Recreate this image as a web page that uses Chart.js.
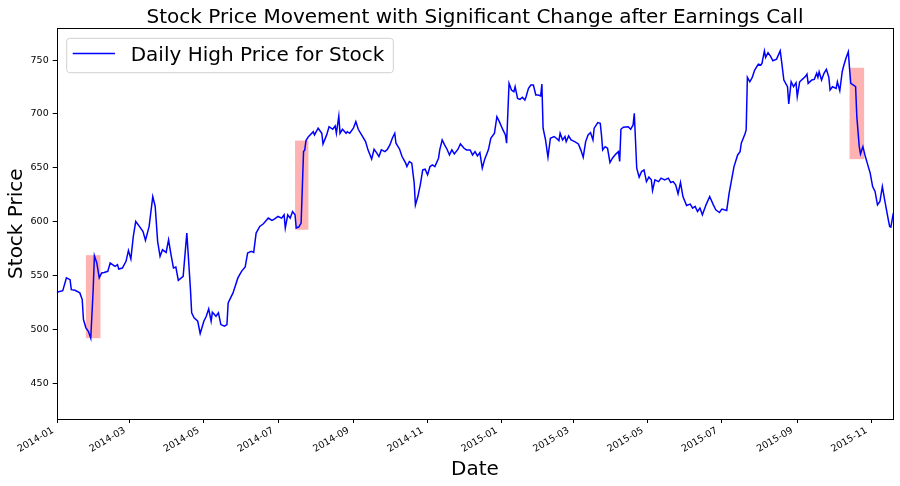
<!DOCTYPE html>
<html><head><meta charset="utf-8">
<script src="https://cdn.jsdelivr.net/npm/chart.js@4/dist/chart.umd.min.js"></script>
<style>html,body{margin:0;padding:0;background:#fff}#wrap{width:900px;height:486px}</style>
</head><body><div id="wrap"><canvas id="c" width="900" height="486"></canvas></div>
<script>
const titleText = 'Stock Price Movement with Significant Change after Earnings Call';
const xTitle = 'Date';
const yTitle = 'Stock Price';
const seriesName = 'Daily High Price for Stock';

// trading days, counted as days since 2014-01-01
const days = [
-1,4,7,10,11,14,18,20,21,23,25,27,29,30,32,34,36,38,41,43,47,49,50,53,56,58,60,62,64,67,70,72,75,78,80,82,84,86,89,91,93,95,97,99,103,106,107,109,110,112,115,117,120,122,124,126,127,130,132,134,137,139,140,144,148,151,154,156,159,161,163,166,169,
173,176,178,181,184,186,187,189,191,193,195,196,198,200,202,203,204,206,210,211,214,217,218,221,223,226,228,229,231,232,234,237,238,240,243,245,247,249,253,255,258,260,262,264,266,269,271,273,275,277,278,281,283,286,287,289,291,293,294,296,298,300,302,304,306,308,310,313,314,316,318,320,322,324,326,329,331,334,336,
339,341,343,345,347,349,351,354,356,359,361,363,366,368,369,371,373,375,376,378,380,382,384,385,387,389,391,393,395,397,398,399,401,403,405,408,410,412,413,415,417,418,420,422,425,428,430,432,434,436,438,440,441,444,446,447,448,450,452,454,456,459,461,462,463,465,469,471,473,474,476,478,480,482,484,486,488,489,491,494,496,499,502,504,506,508,510,
512,514,517,520,522,524,526,528,530,533,536,539,541,544,546,548,550,552,554,556,559,561,562,565,566,567,569,571,573,576,578,579,581,582,584,586,588,591,594,595,597,600,601,603,605,607,608,610,613,615,616,617,620,622,624,625,626,628,630,632,634,635,637,640,641,643,645,646,648,650,651,652,654,656,657,659,660,662,664,666,668,670,672,674,676,678,680,683,684,685,687
];

// daily high price
const highs = [
534.6,536,547.9,546.3,537,536.4,534,527.8,509.3,501.6,498.4,492,537,568.5,561.7,547.9,552.5,553,554,561.7,558.6,560.2,556.2,557.1,563.3,573.4,565.5,586.4,600.3,595.7,591,582.7,595.7,623.4,614.2,581.8,567.9,574,571.6,583.3,569.4,557.1,558,545.7,549.4,589.5,572.5,537,515.5,510.8,507.7,496.3,507.7,512.3,519.2,507.7,516,512.3,515.5,504.6,503.1,504.6,524.7,534,547.9,554,558,571,572.5,571.6,589.5,595.7,598.1,
603.4,601.2,602.5,604.9,603.4,606.5,594.2,606.5,603.4,609.5,606.5,594.2,595.1,598.8,665.1,666.7,675.3,679,683.6,680.6,686.8,682.1,672.2,680.6,688.2,685.8,688.9,682.1,698.1,682.1,685.8,682.1,683.6,682.1,686.8,692.9,685.8,682.1,674.4,666.7,658.1,667.3,664.2,660.5,666.7,665.1,667.3,671.3,677.5,682.1,672.9,667.3,660.5,654.4,651.2,655.9,654.4,635.8,615.5,623.4,634.3,648.1,648.8,643.5,651.2,652.8,651.2,659,666.7,675.9,671.3,667.3,662,666.7,663,667.3,672.2,668.2,666.7,
666.7,662,665.1,661.1,664.2,649.7,658.1,666.7,677.5,682.1,697.5,692.9,685.2,680.6,672.9,728.4,722.2,720.7,725.3,714.5,713.6,715.5,713,716,723.8,726.9,726.9,717.6,717.6,716.7,727.8,686.8,675.9,659.9,677.5,679,677.5,675.3,682.1,675.9,679,674.4,679.6,675.9,674.4,672.2,666.7,659.9,674.4,680.6,682.8,675.9,686.8,692,691.4,680.6,666.7,669.7,668.2,654.9,659,663,665.1,655.9,685.8,687.7,688.2,685.8,689.8,700.6,649.7,641.4,646.6,648.1,637.3,641.4,638.9,629,638.9,637.3,640.5,638.9,640.5,636.4,637.3,634.3,626,
636.4,623.4,615.1,616.4,612.7,614.2,609.5,612.7,606.5,615.7,623.4,615.7,611.1,608.6,611.8,611.1,610.5,626.6,638.9,651.2,662,665.1,672.9,681.5,685.2,734,729.9,734,740.7,746.3,745.4,746.9,758.5,752.5,756.8,753.7,749.4,750.9,758.6,750,731.5,725.3,709.3,729.9,725.3,729,716,729.9,733,735.2,737,728.4,731.5,732.1,737.7,734,739.2,731.5,737.7,741.4,734,722.2,725.3,723.8,729.9,721.6,739.2,743.8,751.5,757.7,742.3,728.4,726.9,725.3,697.5,669.7,663,669.7,660.5,652.8,645.1,632.7,628.1,615.7,618.8,632.7,619.6,601.2,595.7,595.1,608.1
];

const tickLabels = ['2014-01','2014-03','2014-05','2014-07','2014-09','2014-11','2015-01','2015-03','2015-05','2015-07','2015-09','2015-11'];
const yTicks = [450,500,550,600,650,700,750];

// earnings-call windows (days since 2014-01-01) and price range within each
const windowStart = [23, 195, 651];
const windowEnd = [35, 206, 663];
const windowLow = [492, 592.6, 658.1];
const windowHigh = [569, 675.3, 742.9];

const tickDays = tickLabels.map(s => {
  const [y, m] = s.split('-').map(Number);
  return (Date.UTC(y, m - 1, 1) - Date.UTC(2014, 0, 1)) / 864e5;
});

const FONT = "'DejaVu Sans', 'Liberation Sans', sans-serif";

const decor = {
  id: 'decor',
  beforeDatasetsDraw(chart) {
    const {ctx, chartArea: a, scales: {x, y}} = chart;
    ctx.save();
    ctx.beginPath(); ctx.rect(a.left, a.top, a.right - a.left, a.bottom - a.top); ctx.clip();
    ctx.fillStyle = 'rgba(255,0,0,0.3)';
    for (let i = 0; i < windowStart.length; i++) {
      const x0 = x.getPixelForValue(windowStart[i]), x1 = x.getPixelForValue(windowEnd[i]);
      const y0 = y.getPixelForValue(windowHigh[i]), y1 = y.getPixelForValue(windowLow[i]);
      ctx.fillRect(x0, y0, x1 - x0, y1 - y0);
    }
    ctx.restore();
  },
  afterDraw(chart) {
    const {ctx, chartArea: a} = chart;
    ctx.save();
    ctx.strokeStyle = '#000'; ctx.lineWidth = 1;
    ctx.strokeRect(Math.round(a.left) + 0.5, Math.round(a.top) + 0.5, Math.round(a.right - a.left) - 1, Math.round(a.bottom - a.top));
    const cx = (a.left + a.right) / 2;
    ctx.fillStyle = '#000';
    ctx.textAlign = 'center'; ctx.textBaseline = 'alphabetic';
    ctx.font = '20px ' + FONT;
    ctx.fillText(titleText, cx, 22.5);
    ctx.fillText(xTitle, cx, 475);
    ctx.save();
    ctx.translate(22, (a.top + a.bottom) / 2);
    ctx.rotate(-Math.PI / 2);
    ctx.fillText(yTitle, 0, 0);
    ctx.restore();
    // legend
    const lx = 66.7, ly = 38.3, lw = 326.6, lh = 34.4, r = 3;
    ctx.beginPath();
    ctx.moveTo(lx + r, ly); ctx.lineTo(lx + lw - r, ly); ctx.quadraticCurveTo(lx + lw, ly, lx + lw, ly + r);
    ctx.lineTo(lx + lw, ly + lh - r); ctx.quadraticCurveTo(lx + lw, ly + lh, lx + lw - r, ly + lh);
    ctx.lineTo(lx + r, ly + lh); ctx.quadraticCurveTo(lx, ly + lh, lx, ly + lh - r);
    ctx.lineTo(lx, ly + r); ctx.quadraticCurveTo(lx, ly, lx + r, ly); ctx.closePath();
    ctx.fillStyle = 'rgba(255,255,255,0.8)'; ctx.fill();
    ctx.strokeStyle = '#d0d0d0'; ctx.lineWidth = 1; ctx.stroke();
    ctx.strokeStyle = '#0000ff'; ctx.lineWidth = 1.5;
    ctx.beginPath(); ctx.moveTo(72.7, 53.5); ctx.lineTo(115, 53.5); ctx.stroke();
    ctx.fillStyle = '#000'; ctx.textAlign = 'left';
    ctx.fillText(seriesName, 130.7, 61);
    ctx.restore();
  }
};

new Chart(document.getElementById('c'), {
  type: 'line',
  data: {
    datasets: [{
      label: seriesName,
      data: days.map((d, i) => ({x: d, y: highs[i]})),
      borderColor: '#0000ff', borderWidth: 1.5, pointRadius: 0, tension: 0, fill: false
    }]
  },
  options: {
    responsive: false, animation: false, devicePixelRatio: 1,
    layout: {padding: {top: 28.3, right: 6.7, left: 0, bottom: 0}},
    plugins: {legend: {display: false}, title: {display: false}, tooltip: {enabled: false}},
    scales: {
      x: {
        type: 'linear', min: days[0], max: days[days.length - 1],
        afterBuildTicks: s => { s.ticks = tickDays.map(v => ({value: v})); },
        afterFit: s => { s.height = 67; },
        ticks: {autoSkip: false, maxRotation: 30, minRotation: 30, padding: 2, labelOffset: -5,
          font: {family: FONT, size: 9.5}, color: '#000',
          callback: (v, i) => tickLabels[i]},
        grid: {drawOnChartArea: false, drawTicks: true, tickLength: 4, tickColor: '#000', lineWidth: 1},
        border: {display: false}
      },
      y: {
        min: 417, max: 779.5,
        afterBuildTicks: s => { s.ticks = yTicks.map(v => ({value: v})); },
        afterFit: s => { s.width = 56.7; },
        ticks: {padding: 4, font: {family: FONT, size: 9.5}, color: '#000', callback: v => String(v)},
        grid: {drawOnChartArea: false, drawTicks: true, tickLength: 4, tickColor: '#000', lineWidth: 1},
        border: {display: false}
      }
    }
  },
  plugins: [decor]
});
</script>
</body></html>
